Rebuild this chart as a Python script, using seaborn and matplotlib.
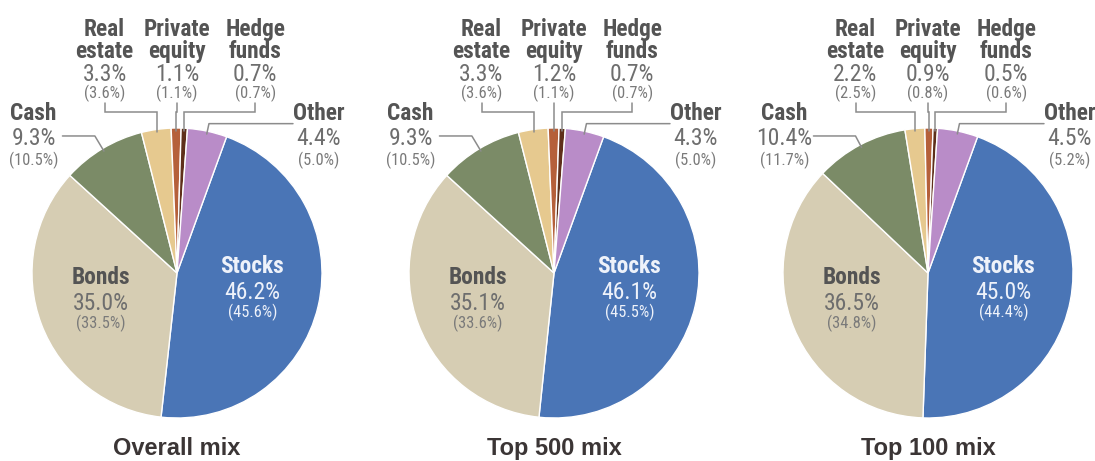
import numpy as np
import matplotlib
matplotlib.use("Agg")
import matplotlib.pyplot as plt
from matplotlib import font_manager as fm
import seaborn as sns

# ---- data ---------------------------------------------------------------
categories = ["Stocks", "Bonds", "Cash", "Real estate", "Private equity",
              "Hedge funds", "Other"]
display_names = ["Stocks", "Bonds", "Cash", "Real\nestate", "Private\nequity",
                 "Hedge\nfunds", "Other"]

panel_titles = ["Overall mix", "Top 500 mix", "Top 100 mix"]

overall_mix = [46.2, 35.0, 9.3, 3.3, 1.1, 0.7, 4.4]
overall_prior = [45.6, 33.5, 10.5, 3.6, 1.1, 0.7, 5.0]

top500_mix = [46.1, 35.1, 9.3, 3.3, 1.2, 0.7, 4.3]
top500_prior = [45.5, 33.6, 10.5, 3.6, 1.1, 0.7, 5.0]

top100_mix = [45.0, 36.5, 10.4, 2.2, 0.9, 0.5, 4.5]
top100_prior = [44.4, 34.8, 11.7, 2.5, 0.8, 0.6, 5.2]

panels = [
    (panel_titles[0], overall_mix, overall_prior),
    (panel_titles[1], top500_mix, top500_prior),
    (panel_titles[2], top100_mix, top100_prior),
]

# ---- style --------------------------------------------------------------
sns.set_theme(style="white")
wedge_colors = sns.color_palette(["#4a75b6", "#d6cdb3", "#7b8b67", "#e6c98f",
                                  "#b5603a", "#5e2f1a", "#b98cc8"])


def pick_family():
    names = {f.name for f in fm.fontManager.ttflist}
    for cand in ("Liberation Sans Narrow", "Arial Narrow", "Roboto Condensed",
                 "Open Sans Condensed", "DejaVu Sans Condensed"):
        if cand in names:
            return cand, 1.0
    return "Liberation Sans", 0.83


LABEL_FONT, SCALE = pick_family()
plt.rcParams["font.family"] = [LABEL_FONT, "DejaVu Sans"]

NAME_SIZE = 16.8 * SCALE
VALUE_SIZE = 17.0 * SCALE
PAREN_SIZE = 11.8 * SCALE
NAME_COLOR = "#545454"
VALUE_COLOR = "#6e6e6e"
PAREN_COLOR = "#7a7a7a"
INSIDE_COLOR = "#eef2fa"
LEADER_COLOR = "#8c8c8c"

# label layout in pie-radius units, relative to the pie centre
TOP_LAYOUT = {
    "Real estate": -0.50,
    "Private equity": 0.0,
    "Hedge funds": 0.54,
}
TOP_NAME_Y = (1.632, 1.480)
TOP_VALUE_Y = 1.326
TOP_PAREN_Y = 1.205

SIDE_LAYOUT = {"Cash": (-0.99, -0.79), "Other": (0.975, 0.80)}
SIDE_NAME_Y, SIDE_VALUE_Y, SIDE_PAREN_Y = 1.052, 0.883, 0.745
SIDE_LEADER_Y = {"Cash": 0.945, "Other": 1.03}

INNER_LAYOUT = {
    "Bonds": (-0.525, (-0.076, -0.255, -0.38), NAME_COLOR, VALUE_COLOR, PAREN_COLOR),
    "Stocks": (0.52, (0.0, -0.176, -0.303), INSIDE_COLOR, INSIDE_COLOR, INSIDE_COLOR),
}

# ---- figure -------------------------------------------------------------
FIG_W, FIG_H = 1095, 461
fig = plt.figure(figsize=(FIG_W / 100, FIG_H / 100), dpi=100)
fig.patch.set_facecolor("white")

R_PX = 145.0
centres_x = [177, 554, 928]
centre_y = FIG_H - 273
col_left = [0, 365, 730]
col_w = 365

for (title, mix, prior), cx, left in zip(panels, centres_x, col_left):
    ax = fig.add_axes([left / FIG_W, 0, col_w / FIG_W, 1])
    wedges, _ = ax.pie(mix, colors=wedge_colors, startangle=70,
                       counterclock=False, radius=1.0,
                       wedgeprops=dict(edgecolor="white", linewidth=1.0))
    ax.set_xlim((left - cx) / R_PX, (left + col_w - cx) / R_PX)
    ax.set_ylim(-centre_y / R_PX, (FIG_H - centre_y) / R_PX)
    ax.set_aspect("auto")
    ax.axis("off")

    for cat, name, w, val, prev in zip(categories, display_names, wedges, mix, prior):
        mid = np.deg2rad((w.theta1 + w.theta2) / 2.0)
        ax_x, ax_y = 0.98 * np.cos(mid), 0.98 * np.sin(mid)

        if cat in TOP_LAYOUT:
            lx = TOP_LAYOUT[cat]
            for line, y in zip(name.split("\n"), TOP_NAME_Y):
                ax.text(lx, y, line, ha="center", va="baseline", fontsize=NAME_SIZE,
                        fontweight="bold", color=NAME_COLOR)
            ax.text(lx, TOP_VALUE_Y, f"{val:.1f}%", ha="center", va="baseline",
                    fontsize=VALUE_SIZE, color=VALUE_COLOR)
            ax.text(lx, TOP_PAREN_Y, f"({prev:.1f}%)", ha="center", va="baseline",
                    fontsize=PAREN_SIZE, color=PAREN_COLOR)
            ax.plot([lx, lx, ax_x, ax_x], [1.175, 1.11, 1.11, ax_y],
                    color=LEADER_COLOR, lw=1.1, clip_on=False,
                    solid_joinstyle="miter")
        elif cat in SIDE_LAYOUT:
            lx, line_start = SIDE_LAYOUT[cat]
            ax.text(lx, SIDE_NAME_Y, name, ha="center", va="baseline",
                    fontsize=NAME_SIZE, fontweight="bold", color=NAME_COLOR)
            ax.text(lx, SIDE_VALUE_Y, f"{val:.1f}%", ha="center", va="baseline",
                    fontsize=VALUE_SIZE, color=VALUE_COLOR)
            ax.text(lx, SIDE_PAREN_Y, f"({prev:.1f}%)", ha="center", va="baseline",
                    fontsize=PAREN_SIZE, color=PAREN_COLOR)
            hy = SIDE_LEADER_Y[cat]
            elbow_x = ax_x * hy / ax_y
            ax.plot([line_start, elbow_x, ax_x], [hy, hy, ax_y],
                    color=LEADER_COLOR, lw=1.1, clip_on=False)
        else:
            lx, ys, c_name, c_val, c_paren = INNER_LAYOUT[cat]
            ax.text(lx, ys[0], name, ha="center", va="baseline", fontsize=NAME_SIZE,
                    fontweight="bold", color=c_name)
            ax.text(lx, ys[1], f"{val:.1f}%", ha="center", va="baseline",
                    fontsize=VALUE_SIZE, color=c_val)
            ax.text(lx, ys[2], f"({prev:.1f}%)", ha="center", va="baseline",
                    fontsize=PAREN_SIZE, color=c_paren)

    ax.text(0.0, -1.21, title, ha="center", va="center", fontsize=17,
            fontweight="bold", color="#3b3535",
            family=["Liberation Sans", "DejaVu Sans"])

fig.savefig("out.png", dpi=100, facecolor="white")
